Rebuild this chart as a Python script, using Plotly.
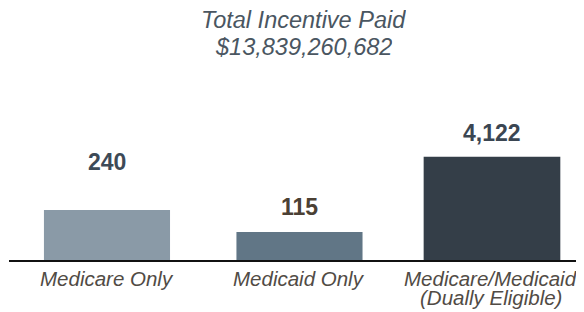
import plotly.graph_objects as go

# ---- data ----
category_lines = [["Medicare Only"], ["Medicaid Only"], ["Medicare/Medicaid", "(Dually Eligible)"]]
hospital_counts = [240, 115, 4122]
bar_heights = [3.80, 2.13, 7.85]  # estimated incentive paid, $ billions
title_line = "Total Incentive Paid"
total_paid = 13839260682

# ---- styles ----
bar_colors = ["#8a9aa7", "#617686", "#343e48"]
label_colors = ["#3d4a57", "#4b4034", "#3b4652"]
label_shift = [48, 25, 24]
FONT = "Liberation Sans, Arial, sans-serif"

xs = list(range(len(category_lines)))

fig = go.Figure()
fig.add_trace(go.Bar(
    x=xs, y=bar_heights, width=[0.655, 0.655, 0.71],
    marker=dict(color=bar_colors, line=dict(width=0)),
    hoverinfo="skip",
))

# value labels
for i, (h, c) in enumerate(zip(bar_heights, hospital_counts)):
    fig.add_annotation(
        x=i, y=h, xref="x", yref="y", text=f"<b>{c:,}</b>",
        showarrow=False, yanchor="middle", yshift=label_shift[i],
        font=dict(family=FONT, size=23, color=label_colors[i]),
    )

# category labels (tight line spacing, as in the reference)
for i, lines in enumerate(category_lines):
    for j, line in enumerate(lines):
        fig.add_annotation(
            x=i, y=0, xref="x", yref="paper", text=line,
            showarrow=False, yanchor="middle", yshift=-18 - 19 * j,
            xshift=-1 if i == 2 else 0,
            font=dict(family=FONT, size=20.5, color="#514b45", style="italic"),
        )

# title
for text, shift in [(title_line, 80), (f"${total_paid:,}", 53)]:
    fig.add_annotation(
        x=1, y=1, xref="x", yref="paper", text=text,
        showarrow=False, yanchor="middle", yshift=shift, xshift=4,
        height=24, borderpad=0,
        font=dict(family=FONT, size=23.5, color="#4a5661", style="italic"),
    )

fig.update_layout(
    width=576, height=304,
    margin=dict(l=1, r=0, t=92, b=52),
    paper_bgcolor="white", plot_bgcolor="white",
    showlegend=False,
    xaxis=dict(
        range=[-0.509, 2.478], showticklabels=False,
        showline=True, linecolor="#111111", linewidth=2, showgrid=False, zeroline=False,
        ticks="",
    ),
    yaxis=dict(range=[0, 12.17], visible=False, showgrid=False, zeroline=False),
)

fig.write_html("out.html")
